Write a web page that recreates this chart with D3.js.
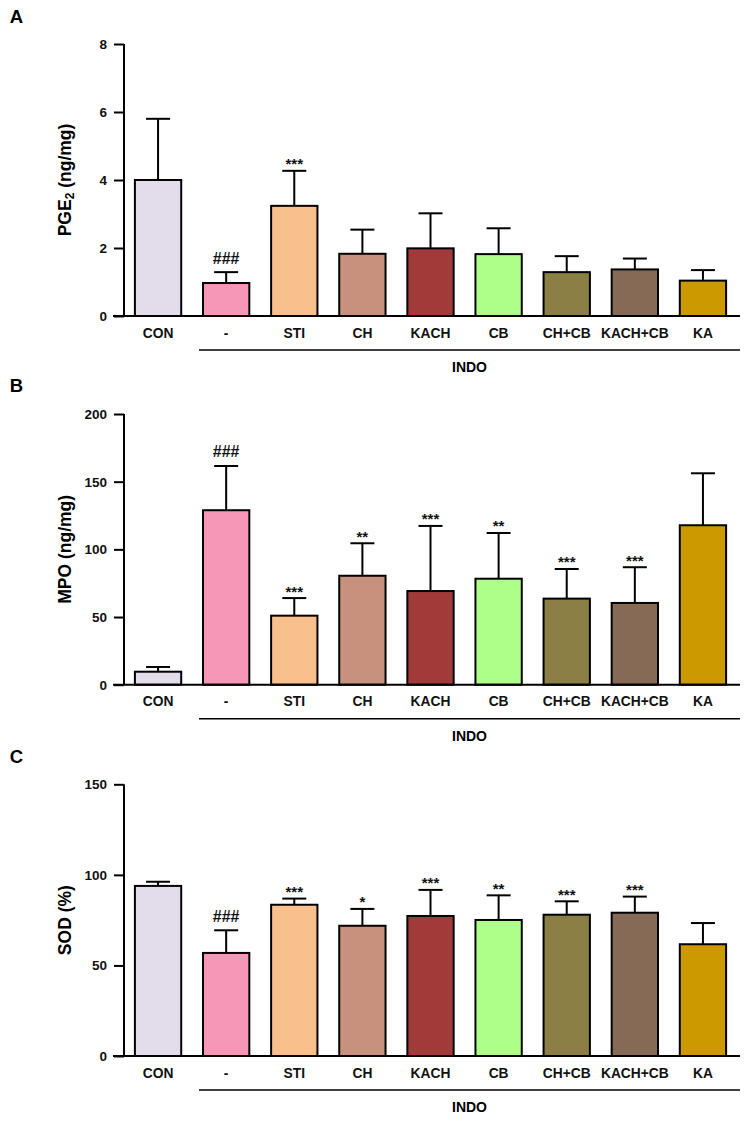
<!DOCTYPE html>
<html><head><meta charset="utf-8">
<script src="https://cdn.jsdelivr.net/npm/d3@7"></script>
<style>body{margin:0;background:#fff}svg{display:block}text{font-family:"Liberation Sans",Arial,sans-serif;font-weight:bold}</style>
</head><body><svg id="c" width="752" height="1121"></svg>
<script>
const categories = ["CON","-","STI","CH","KACH","CB","CH+CB","KACH+CB","KA"];
const colors = ["#E3DDEB","#F797B8","#F9BF8C","#C8917E","#A33A3A","#AEFF8A","#8B7F45","#866A55","#CC9900"];
const pgeMean = [4.0,0.97,3.24,1.83,1.99,1.82,1.29,1.37,1.04];
const pgeErr  = [5.8,1.29,4.27,2.54,3.02,2.58,1.76,1.69,1.35];
const pgeSig  = ["","###","***","","","","","",""];
const pgeTicks = [0,2,4,6,8];
const mpoMean = [9.6,128.9,51,80.5,69.2,78.3,63.6,60.4,117.8];
const mpoErr  = [13.1,161.6,64,104.5,117.3,112.1,85.5,86.8,156.2];
const mpoSig  = ["","###","***","**","***","**","***","***",""];
const mpoTicks = [0,50,100,150,200];
const sodMean = [93.9,56.9,83.5,71.9,77.3,75.1,78,79.1,61.7];
const sodErr  = [96.2,69.4,86.9,81.2,91.7,88.7,85.4,88,73.4];
const sodSig  = ["","###","***","*","***","**","***","***",""];
const sodTicks = [0,50,100,150];
const groupLabel = "INDO";

const panels = [
  {letter:"A", letterY:17, top:44, base:316, max:8, ticks:pgeTicks, mean:pgeMean, err:pgeErr, sig:pgeSig, title:"PGE2"},
  {letter:"B", letterY:386, top:414, base:684.7, max:200, ticks:mpoTicks, mean:mpoMean, err:mpoErr, sig:mpoSig, title:"MPO"},
  {letter:"C", letterY:757, top:784.3, base:1056, max:150, ticks:sodTicks, mean:sodMean, err:sodErr, sig:sodSig, title:"SOD"}
];

const svg = d3.select("#c");
const x = d3.scaleBand().domain(categories).range([124,737]).paddingInner(0.32).paddingOuter(0.16);

panels.forEach(p => {
  const g = svg.append("g");
  const y = d3.scaleLinear().domain([0,p.max]).range([p.base,p.top]);
  g.append("text").attr("x",16.5).attr("y",p.letterY).attr("dy","0.35em").attr("text-anchor","middle")
    .attr("font-size",18.5).text(p.letter);
  // bars
  g.selectAll("rect.bar").data(categories).enter().append("rect")
    .attr("x",d=>x(d)).attr("width",x.bandwidth())
    .attr("y",(d,i)=>y(p.mean[i])).attr("height",(d,i)=>y(0)-y(p.mean[i]))
    .attr("fill",(d,i)=>colors[i]).attr("stroke","#000").attr("stroke-width",2);
  // error bars
  const cx = d=>x(d)+x.bandwidth()/2;
  g.selectAll("line.eb").data(categories).enter().append("line")
    .attr("x1",cx).attr("x2",cx).attr("y1",(d,i)=>y(p.mean[i])).attr("y2",(d,i)=>y(p.err[i]))
    .attr("stroke","#000").attr("stroke-width",2);
  g.selectAll("line.cap").data(categories).enter().append("line")
    .attr("x1",d=>cx(d)-12).attr("x2",d=>cx(d)+12).attr("y1",(d,i)=>y(p.err[i])).attr("y2",(d,i)=>y(p.err[i]))
    .attr("stroke","#000").attr("stroke-width",2);
  // significance
  g.selectAll("text.sig").data(categories).enter().append("text")
    .attr("x",cx).attr("text-anchor","middle")
    .attr("y",(d,i)=>p.sig[i].startsWith("#") ? y(p.err[i])-8.5 : y(p.err[i])-1.5)
    .attr("font-size",(d,i)=>p.sig[i].startsWith("#")?16:15)
    .attr("font-weight",(d,i)=>p.sig[i].startsWith("#")?"bold":"normal")
    .attr("fill","#111")
    .text((d,i)=>p.sig[i]);
  // y axis
  const ya = g.append("g").attr("transform","translate(124,0)")
    .call(d3.axisLeft(y).tickValues(p.ticks).tickSize(10).tickPadding(7).tickFormat(d3.format("d")));
  ya.select(".domain").attr("stroke-width",2).attr("d",`M0,${p.top}V${p.base}`);
  ya.selectAll(".tick line").attr("stroke-width",2);
  ya.selectAll(".tick text").attr("font-size",13.5).attr("font-family","Liberation Sans, Arial").attr("font-weight","bold").attr("fill","#111");
  // x axis
  const xa = g.append("g").attr("transform",`translate(0,${p.base})`)
    .call(d3.axisBottom(x).tickSize(0).tickPadding(12));
  xa.select(".domain").attr("stroke-width",2).attr("d","M113,0H740");
  xa.selectAll(".tick text").attr("font-size",13.8).attr("font-family","Liberation Sans, Arial").attr("font-weight","bold").attr("fill","#111");
  // group line
  g.append("line").attr("x1",199).attr("x2",740).attr("y1",p.base+34).attr("y2",p.base+34)
    .attr("stroke","#000").attr("stroke-width",1.5);
  g.append("text").attr("x",(199+740)/2).attr("y",p.base+51).attr("dy","0.35em").attr("text-anchor","middle")
    .attr("font-size",14).text(groupLabel);
  // y title
  const t = g.append("text").attr("transform",`translate(65,${(p.top+p.base)/2}) rotate(-90)`)
    .attr("text-anchor","middle").attr("dy","0.35em").attr("font-size",17.5);
  if (p.title==="PGE2") {
    t.append("tspan").text("PGE");
    t.append("tspan").attr("font-size",12).attr("dy","3").text("2");
    t.append("tspan").attr("dy","-3").text(" (ng/mg)");
  } else if (p.title==="MPO") {
    t.text("MPO (ng/mg)");
  } else {
    t.text("SOD (%)");
  }
});
</script></body></html>
